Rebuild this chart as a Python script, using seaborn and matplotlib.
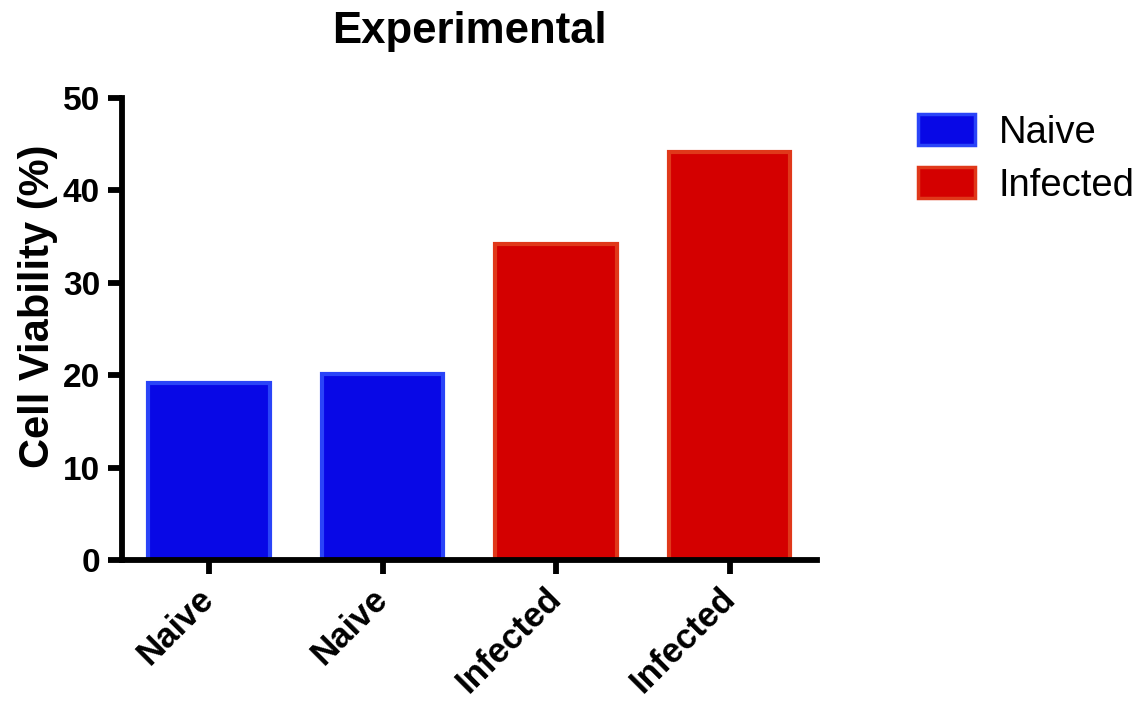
import matplotlib
matplotlib.use("Agg")
import matplotlib.pyplot as plt
import seaborn as sns
import pandas as pd
from matplotlib.patches import Patch

samples = ["S1", "S2", "S3", "S4"]
tick_labels = ["Naive", "Naive", "Infected", "Infected"]
groups = ["Naive", "Naive", "Infected", "Infected"]
viability = [19.2, 20.1, 34.2, 44.2]

fill_colors = {"Naive": "#0808e6", "Infected": "#d40000"}
edge_colors = {"Naive": "#2a44f8", "Infected": "#e0381a"}

df = pd.DataFrame({"sample": samples, "group": groups, "viability": viability})

sns.set_theme(style="white")
plt.rcParams["font.family"] = ["Liberation Sans", "DejaVu Sans"]

fig = plt.figure(figsize=(11.42, 7.02), dpi=100)
ax = fig.add_axes([0.107, 0.2023, 0.608, 0.658])

sns.barplot(data=df, x="sample", y="viability", hue="group", order=samples,
            hue_order=["Naive", "Infected"], palette=fill_colors, dodge=False,
            saturation=1, width=0.7, ax=ax, legend=False, linewidth=0)

for bar in ax.patches:
    if bar.get_height() <= 0:
        continue
    idx = int(round(bar.get_x() + bar.get_width() / 2))
    bar.set_edgecolor(edge_colors[groups[idx]])
    bar.set_linewidth(3)

ax.set_xlim(-0.5, 3.5)
ax.set_ylim(0, 50)
ax.set_yticks([0, 10, 20, 30, 40, 50])
ax.set_xticks(range(len(samples)))
ax.set_xticklabels(tick_labels, rotation=45, ha="right", va="center",
                   rotation_mode="anchor", fontsize=25, fontweight="bold",
                   color="black")
for lab in ax.get_yticklabels():
    lab.set_fontsize(24)
    lab.set_fontweight("bold")
    lab.set_color("black")

ax.set_xlabel("")
ax.set_ylabel("Cell Viability (%)", fontsize=30, fontweight="bold", color="black")
ax.yaxis.set_label_coords(-0.092, 0.55)
ax.set_title("Experimental", fontsize=31.5, fontweight="bold", pad=40, color="black")

for s in ["top", "right"]:
    ax.spines[s].set_visible(False)
for s in ["left", "bottom"]:
    ax.spines[s].set_linewidth(4.2)
    ax.spines[s].set_color("black")
ax.tick_params(axis="both", which="both", length=10, width=4.2, color="black",
               direction="out", left=True, bottom=True, labelcolor="black")
ax.tick_params(axis="y", pad=6)
ax.tick_params(axis="x", pad=14)

handles = [Patch(facecolor=fill_colors[g], edgecolor=edge_colors[g], linewidth=2.5, label=g)
           for g in ["Naive", "Infected"]]
fig.legend(handles=handles, loc="upper left", bbox_to_anchor=(0.804, 0.838),
           frameon=False, fontsize=27.5, handlelength=1.5, handleheight=0.9,
           handletextpad=0.6, labelspacing=0.42, borderpad=0, borderaxespad=0,
           labelcolor="black")

fig.savefig("out.png", dpi=100)
